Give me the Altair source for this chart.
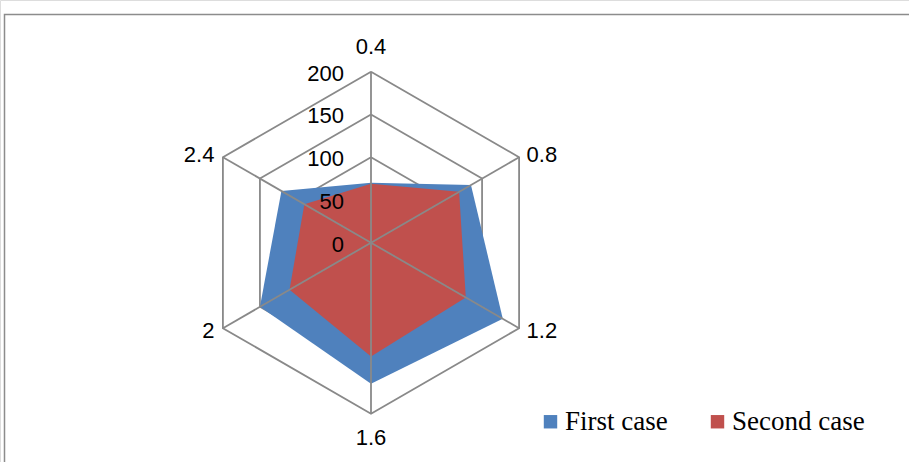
import altair as alt
import pandas as pd

# ---- data -------------------------------------------------------------
categories = ["0.4", "0.8", "1.2", "1.6", "2", "2.4"]
first_case = [70, 135, 178, 165, 150, 121]
second_case = [69, 119, 128, 133, 110, 90]
series_names = ["First case", "Second case"]
series_colors = ["#4F81BD", "#C0504D"]
ring_levels = [50, 100, 150, 200]
tick_values = [0, 50, 100, 150, 200]
r_max = 200

# ---- layout -----------------------------------------------------------
W, H = 909, 462
cx, cy = 371, 242.7          # radar centre in pixels
outer_px = 171               # pixel radius of the outermost ring
k = r_max / outer_px         # data units per pixel
x_scale = alt.Scale(domain=[-cx * k, (W - cx) * k], nice=False, zero=False)
y_scale = alt.Scale(domain=[-(H - cy) * k, cy * k], nice=False, zero=False)
grid_color = "#898989"
grid_width = 1.8
n = len(categories)

# ---- tables built from the lists above ----------------------------------
poly_rows = []
for s_i, (name, vals) in enumerate(zip(series_names, [first_case, second_case])):
    for i in range(n + 1):
        j = i % n
        poly_rows.append({"series": name, "s": s_i, "ord": i, "pos": j, "value": vals[j]})
poly_df = pd.DataFrame(poly_rows)

ring_rows = []
for lvl in ring_levels:
    for i in range(n + 1):
        ring_rows.append({"level": lvl, "ord": i, "pos": i % n, "value": lvl})
ring_df = pd.DataFrame(ring_rows)

spoke_df = pd.DataFrame({"pos": list(range(n)), "value": [r_max] * n})
cat_df = pd.DataFrame({"pos": list(range(n)), "label": categories})
tick_df = pd.DataFrame({"value": tick_values, "label": [str(v) for v in tick_values]})

ANG = "datum.pos * 2 * PI / %d" % n


def polar(chart, r_expr="datum.value"):
    return chart.transform_calculate(
        px="(%s) * sin(%s)" % (r_expr, ANG),
        py="(%s) * cos(%s)" % (r_expr, ANG),
    )


X = alt.X("px:Q", scale=x_scale, axis=None)
Y = alt.Y("py:Q", scale=y_scale, axis=None)

# outer frame
frame = alt.Chart(pd.DataFrame({"a": [0]})).mark_rect(
    filled=False, stroke="#8c8c8c", strokeWidth=1.5
).encode(
    x=alt.value(4.5), y=alt.value(14.5), x2=alt.value(W + 20), y2=alt.value(H + 20)
)

# hexagonal gridlines
rings = polar(alt.Chart(ring_df)).mark_line(
    color=grid_color, strokeWidth=grid_width
).encode(x=X, y=Y, detail="level:N", order="ord:Q")

# filled series polygons
polys = polar(alt.Chart(poly_df)).mark_line(
    filled=True, strokeWidth=0
).encode(
    x=X,
    y=Y,
    color=alt.Color(
        "series:N",
        scale=alt.Scale(domain=series_names, range=series_colors),
        legend=alt.Legend(
            title=None,
            orient="none",
            legendX=537,
            legendY=408,
            direction="horizontal",
            symbolType="square",
            symbolSize=180,
            symbolStrokeWidth=0,
            labelFont="Liberation Serif",
            labelFontSize=27,
            labelColor="black",
            labelOffset=1,
            columnPadding=36,
        ),
    ),
    detail="series:N",
    order="ord:Q",
)

# radial spokes
spokes = alt.Chart(spoke_df).transform_calculate(
    px="datum.value * sin(%s)" % ANG,
    py="datum.value * cos(%s)" % ANG,
    ox="0",
    oy="0",
).mark_rule(color=grid_color, strokeWidth=grid_width).encode(
    x=alt.X("ox:Q", scale=x_scale, axis=None),
    y=alt.Y("oy:Q", scale=y_scale, axis=None),
    x2="px:Q",
    y2="py:Q",
)

# value labels along the top spoke
ticks = alt.Chart(tick_df).transform_calculate(px="0", py="datum.value").mark_text(
    align="right", baseline="middle", dx=-27, dy=2,
    font="Liberation Sans", fontSize=22, color="black"
).encode(x=X, y=Y, text="label:N")

# category labels
lab_font = dict(font="Liberation Sans", fontSize=22, color="black", baseline="middle")
cat_tb = polar(alt.Chart(cat_df), "229").transform_filter(
    "datum.pos == 0 || datum.pos == 3"
).mark_text(align="center", **lab_font).encode(x=X, y=Y, text="label:N")
cat_r = polar(alt.Chart(cat_df), "206").transform_filter(
    "datum.pos == 1 || datum.pos == 2"
).mark_text(align="left", dx=3, **lab_font).encode(x=X, y=Y, text="label:N")
cat_l = polar(alt.Chart(cat_df), "206").transform_filter(
    "datum.pos == 4 || datum.pos == 5"
).mark_text(align="right", dx=-4, **lab_font).encode(x=X, y=Y, text="label:N")

chart = alt.layer(frame, rings, polys, spokes, ticks, cat_tb, cat_r, cat_l).properties(
    width=W, height=H, padding=0, autosize=alt.AutoSizeParams(type="none")
).configure_view(stroke=None).configure(background="white")

chart.save("out.html", embed_options={"renderer": "svg", "actions": False})
